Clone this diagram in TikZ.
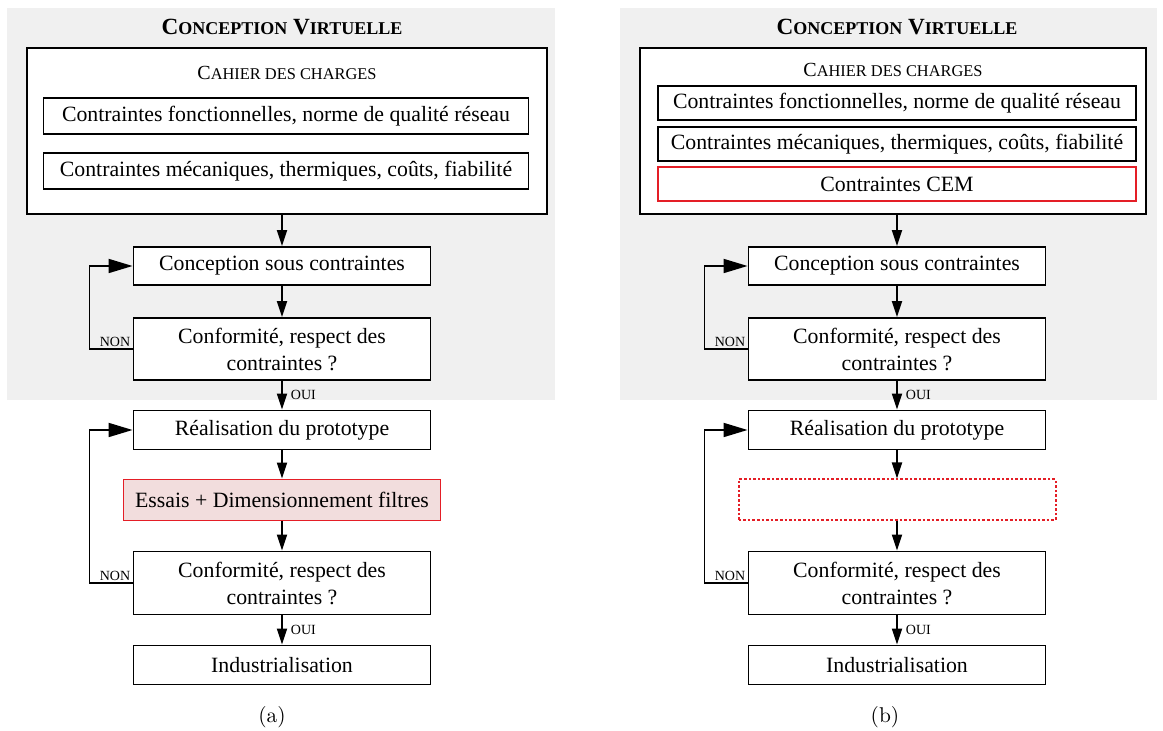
\documentclass[tikz,border=0pt]{standalone}
\usepackage{fontspec}
\newfontfamily\tnr{Liberation Serif}
\usetikzlibrary{arrows.meta}
\definecolor{fondgris}{RGB}{240,240,240}
\definecolor{rougecem}{RGB}{228,30,38}
\definecolor{roseessai}{RGB}{242,221,221}
\tikzset{
  bloc/.style={draw, line width=0.95pt, fill=white, inner sep=0pt, align=center,
    font=\tnr\fontsize{10.9}{13.5}\selectfont},
  titre/.style={inner sep=0pt, font=\tnr\bfseries\fontsize{11.6}{13}\selectfont},
  cahier/.style={inner sep=0pt, font=\tnr\fontsize{10}{12}\selectfont},
  lbl/.style={inner sep=1pt, font=\tnr\fontsize{7}{8}\selectfont},
  legende/.style={inner sep=0pt, font=\fontsize{10.7}{13}\selectfont},
  fleche/.style={line width=0.9pt, -{Triangle[length=8pt,width=5pt]}},
  retour/.style={line width=0.9pt, -{Triangle[length=12pt,width=7pt]}},
}
\newcommand{\petit}[1]{{\fontsize{9}{10}\selectfont #1}}
\newcommand{\cahpetit}[1]{{\fontsize{8.2}{10}\selectfont #1}}
\begin{document}
\begin{tikzpicture}[x=0.5pt,y=-0.5pt]
\useasboundingbox (0,0) rectangle (1163,731);
% ---------- (a) ----------
\fill[fondgris] (7,8) rectangle (555,400);
\node[titre] (titreA) at (282,27) {C\petit{ONCEPTION} V\petit{IRTUELLE}};
\node[bloc, minimum width=260pt, minimum height=83pt] (cdcA) at (287,131) {};
\node[cahier] (cahierA) at (287,73) {C\cahpetit{AHIER DES CHARGES}};
\node[bloc, minimum width=242.5pt, minimum height=18pt] (fonctA) at (286,116) {Contraintes fonctionnelles, norme de qualité réseau};
\node[bloc, minimum width=242.5pt, minimum height=18pt] (mecaA) at (286,171) {Contraintes mécaniques, thermiques, coûts, fiabilité};
\node[bloc, minimum width=148.5pt, minimum height=19pt] (concA) at (282,266) {Conception sous contraintes};
\node[bloc, minimum width=148.5pt, minimum height=31pt] (confA) at (282,349) {Conformité, respect des\\contraintes ?};
\node[bloc, minimum width=148.5pt, minimum height=19.5pt] (realA) at (282,430) {Réalisation du prototype};
\node[bloc, draw=rougecem, fill=roseessai, minimum width=158.5pt, minimum height=20.5pt] (essaisA) at (282,500) {Essais + Dimensionnement filtres};
\node[bloc, minimum width=148.5pt, minimum height=31.5pt] (conf2A) at (282,583) {Conformité, respect des\\contraintes ?};
\node[bloc, minimum width=148.5pt, minimum height=19.5pt] (indusA) at (282,665) {Industrialisation};
\node[legende] (legA) at (272,717) {(a)};

\draw[fleche] (concA.north |- cdcA.south) -- (concA.north);
\draw[fleche] (concA) -- (confA);
\draw[fleche] (confA) -- node[lbl, right=3pt] {OUI} (realA);
\draw[fleche] (realA) -- (essaisA);
\draw[fleche] (essaisA) -- (conf2A);
\draw[fleche] (conf2A) -- node[lbl, right=3pt] {OUI} (indusA);
\draw[retour] (confA.west) -- ++(-21.5pt,0) |- (concA.west);
\draw[retour] (conf2A.west) -- ++(-21.5pt,0) |- (realA.west);
\node[lbl, anchor=south east] at (confA.west) {NON};
\node[lbl, anchor=south east] at (conf2A.west) {NON};

% ---------- (b) ----------
\fill[fondgris] (620,8) rectangle (1157,400);
\node[titre] (titreB) at (897,27) {C\petit{ONCEPTION} V\petit{IRTUELLE}};
\node[bloc, minimum width=253pt, minimum height=83pt] (cdcB) at (893,131) {};
\node[cahier] (cahierB) at (893,70) {C\cahpetit{AHIER DES CHARGES}};
\node[bloc, minimum width=239pt, minimum height=17pt] (fonctB) at (897,103) {Contraintes fonctionnelles, norme de qualité réseau};
\node[bloc, minimum width=239pt, minimum height=17pt] (mecaB) at (897,144) {Contraintes mécaniques, thermiques, coûts, fiabilité};
\node[bloc, draw=rougecem, minimum width=239pt, minimum height=17pt] (cemB) at (897,184) {Contraintes CEM};
\node[bloc, minimum width=148.5pt, minimum height=19pt] (concB) at (897,266) {Conception sous contraintes};
\node[bloc, minimum width=148.5pt, minimum height=31pt] (confB) at (897,349) {Conformité, respect des\\contraintes ?};
\node[bloc, minimum width=148.5pt, minimum height=19.5pt] (realB) at (897,430) {Réalisation du prototype};
\node[bloc, draw=rougecem, line width=1pt, dash pattern=on 1.3pt off 1pt, minimum width=158.5pt, minimum height=20.5pt] (essaisB) at (897,500) {};
\node[bloc, minimum width=148.5pt, minimum height=31.5pt] (conf2B) at (897,583) {Conformité, respect des\\contraintes ?};
\node[bloc, minimum width=148.5pt, minimum height=19.5pt] (indusB) at (897,665) {Industrialisation};
\node[legende] (legB) at (885,717) {(b)};

\draw[fleche] (concB.north |- cdcB.south) -- (concB.north);
\draw[fleche] (concB) -- (confB);
\draw[fleche] (confB) -- node[lbl, right=3pt] {OUI} (realB);
\draw[fleche] (realB) -- (essaisB);
\draw[fleche] (essaisB) -- (conf2B);
\draw[fleche] (conf2B) -- node[lbl, right=3pt] {OUI} (indusB);
\draw[retour] (confB.west) -- ++(-21.5pt,0) |- (concB.west);
\draw[retour] (conf2B.west) -- ++(-21.5pt,0) |- (realB.west);
\node[lbl, anchor=south east] at (confB.west) {NON};
\node[lbl, anchor=south east] at (conf2B.west) {NON};
\end{tikzpicture}
\end{document}
